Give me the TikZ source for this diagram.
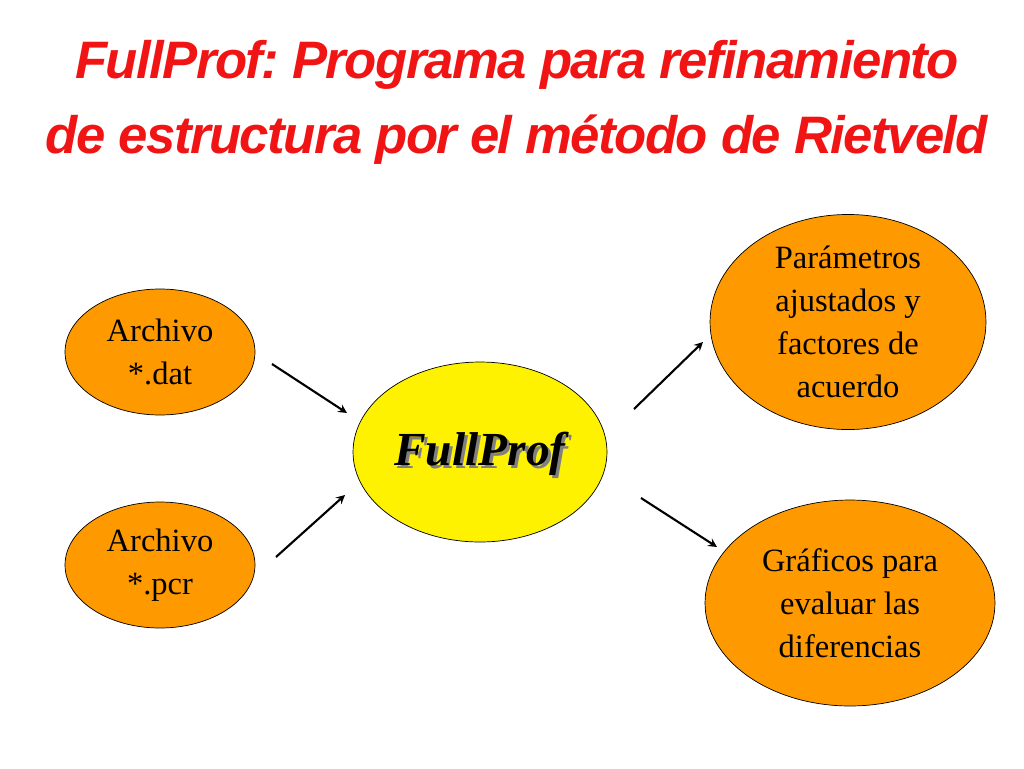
\documentclass[tikz,border=0pt]{standalone}
\usepackage{fontspec}
\setmainfont{Liberation Serif}
\newfontfamily\titlefont[LetterSpace=-3]{Liberation Sans}
\usetikzlibrary{shapes.geometric,positioning}
\definecolor{boxorange}{RGB}{255,153,0}
\definecolor{titlered}{RGB}{240,20,20}
\frenchspacing
\tikzset{
  bubble/.style={ellipse,draw=black,fill=boxorange,align=center,inner sep=0pt,
    font=\fontsize{18.5}{24.5}\selectfont},
  headline/.style={text=titlered,font=\titlefont\bfseries\itshape\fontsize{30}{34}\selectfont},
  flow/.style={->,>=stealth,line width=1.2pt}
}
\begin{document}
\begin{tikzpicture}[x=0.02cm,y=-0.02cm]
  \useasboundingbox (0,0) rectangle (1024,768);
  % title
  \node[headline] (title1) at (517,65) {FullProf: Programa para refinamiento};
  \node[headline] (title2) at (517,140) {de estructura por el método de Rietveld};
  % inputs
  \node[bubble,minimum width=3.8cm,minimum height=2.52cm] (dat) at (160,352) {Archivo\\*.dat};
  \node[bubble,minimum width=3.8cm,minimum height=2.52cm] (pcr) at (160,565) {Archivo\\*.pcr};
  % program
  \node[ellipse,draw=black,fill=yellow,minimum width=5.08cm,minimum height=3.6cm] (fp) at (480,452) {};
  \node[text=gray,font=\bfseries\itshape\fontsize{27}{30}\selectfont] (fpshadow) at (483,457) {FullProf};
  \node[font=\bfseries\itshape\fontsize{27}{30}\selectfont] (fplabel) at (480,454) {FullProf};
  % outputs
  \node[bubble,minimum width=5.52cm,minimum height=4cm] (par) at (848,322) {Parámetros\\ajustados y\\factores de\\acuerdo};
  \node[bubble,minimum width=5.8cm,minimum height=4.12cm] (graf) at (850,603) {Gráficos para\\evaluar las\\diferencias};
  % arrows
  \coordinate (a1) at (272,364); \coordinate (b1) at (347,413);
  \coordinate (a2) at (276,557); \coordinate (b2) at (345,495);
  \coordinate (a3) at (634,409); \coordinate (b3) at (703,342);
  \coordinate (a4) at (641,498); \coordinate (b4) at (717,547);
  \draw[flow] (a1) -- (b1);
  \draw[flow] (a2) -- (b2);
  \draw[flow] (a3) -- (b3);
  \draw[flow] (a4) -- (b4);
\end{tikzpicture}
\end{document}
